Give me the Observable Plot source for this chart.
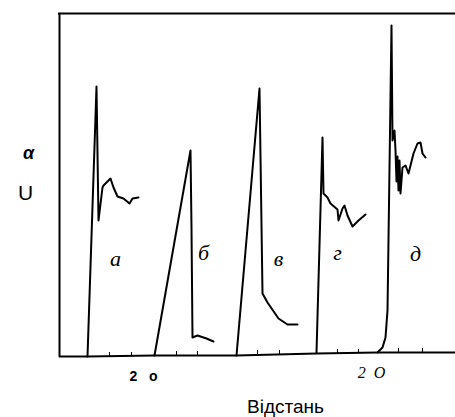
<!DOCTYPE html>
<html>
<head>
<meta charset="utf-8">
<script src="https://cdn.jsdelivr.net/npm/d3@7"></script>
<script src="https://cdn.jsdelivr.net/npm/@observablehq/plot@0.6"></script>
<style>
  html, body { margin: 0; padding: 0; background: #fff; }
  #chart svg { display: block; }
</style>
</head>
<body>
<div id="chart"></div>
<script>
// Waveforms: distance (x) and amplitude U (y)
const waveA_x = [28, 37, 39, 43, 44, 51, 54, 58, 64, 70, 73, 79];
const waveA_y = [0, 270, 136, 169, 171, 178, 169, 160, 158, 153, 158, 159];
const waveB_x = [95, 131, 132, 133, 138, 147, 154];
const waveB_y = [1, 206, 128, 19, 21, 18, 15];
const waveV_x = [177, 200, 203, 208, 219, 228, 238];
const waveV_y = [1, 268, 63, 54, 38, 32, 32];
const waveG_x = [257, 263, 264, 268, 271, 278, 279, 283, 285, 288, 293, 299, 306];
const waveG_y = [4, 219, 163, 159, 153, 147, 136, 148, 151, 141, 130, 136, 142];
const waveD_x = [318, 323, 326, 328, 332, 333, 335, 336, 337, 338, 339, 340, 341, 343, 346, 349, 354, 358, 361, 363, 366];
const waveD_y = [4, 9, 19, 46, 331, 216, 226, 206, 175, 200, 166, 196, 163, 189, 191, 183, 203, 213, 214, 203, 199];
const waveNames = ["а", "б", "в", "г", "д"];
const labelX = [56, 144, 219, 278, 356];
const labelY = [98, 104, 98, 104, 103];

// Axis baseline, ticks and tick labels
const baseX = [0, 28, 95, 177, 257, 318, 396];
const baseY = [0, 0, 1, 1, 3, 4, 4];
const tickPos = [50, 72, 117, 138, 198, 220, 278, 299, 339, 363];
const tickBase = [0, 0, 1, 1, 2, 2, 3, 3, 4, 4];
const tickLabelA = "2\u00a0\u00a0\u00a0o";
const tickLabelB = "2\u00a0\u00a0O";

const xMax = 396, yMax = 343;

const waves = [
  [waveA_x, waveA_y], [waveB_x, waveB_y], [waveV_x, waveV_y],
  [waveG_x, waveG_y], [waveD_x, waveD_y]
].flatMap(([xs, ys], i) => xs.map((x, j) => ({wave: waveNames[i], x, y: ys[j]})));
const base = baseX.map((x, i) => ({x, y: baseY[i]}));
const ticks = tickPos.map((x, i) => ({x, y: tickBase[i]}));
const labels = waveNames.map((t, i) => ({t, x: labelX[i], y: labelY[i]}));

const chart = Plot.plot({
  width: 455,
  height: 417,
  marginLeft: 59,
  marginRight: 0,
  marginTop: 13,
  marginBottom: 61,
  x: {domain: [0, xMax], axis: null},
  y: {domain: [0, yMax], axis: null},
  marks: [
    Plot.ruleX([0], {y1: 0, y2: yMax, stroke: "black", strokeWidth: 2}),
    Plot.ruleY([yMax], {x1: -1, x2: xMax, stroke: "black", strokeWidth: 2}),
    Plot.line(base, {x: "x", y: "y", stroke: "black", strokeWidth: 2}),
    Plot.ruleX(ticks, {x: "x", y1: "y", y2: d => d.y + 4, stroke: "black", strokeWidth: 1}),
    Plot.line(waves, {x: "x", y: "y", z: "wave", stroke: "black", strokeWidth: 2, strokeLinejoin: "round"}),
    Plot.text(labels, {x: "x", y: "y", text: "t", fontSize: 22, fontStyle: "italic", fontFamily: "Liberation Serif", fill: "black"}),
    Plot.text(["α"], {x: -31, y: 203, text: d => d, fontSize: 18, fontWeight: "bold", fontStyle: "italic", fontFamily: "Liberation Sans", fill: "black"}),
    Plot.text(["U"], {x: -34, y: 163, text: d => d, fontSize: 21, fontFamily: "Liberation Sans", fill: "black"}),
    Plot.text([tickLabelA], {x: 84, y: -20, text: d => d, fontSize: 14, fontWeight: "bold", fontFamily: "Liberation Sans", fill: "black"}),
    Plot.text([tickLabelB], {x: 312, y: -16, text: d => d, fontSize: 16, fontStyle: "italic", fontFamily: "Liberation Serif", fill: "black"}),
    Plot.text(["Відстань"], {x: 226, y: -50, text: d => d, fontSize: 19, fontFamily: "Liberation Sans", fill: "black"})
  ]
});
document.getElementById("chart").append(chart);
</script>
</body>
</html>
